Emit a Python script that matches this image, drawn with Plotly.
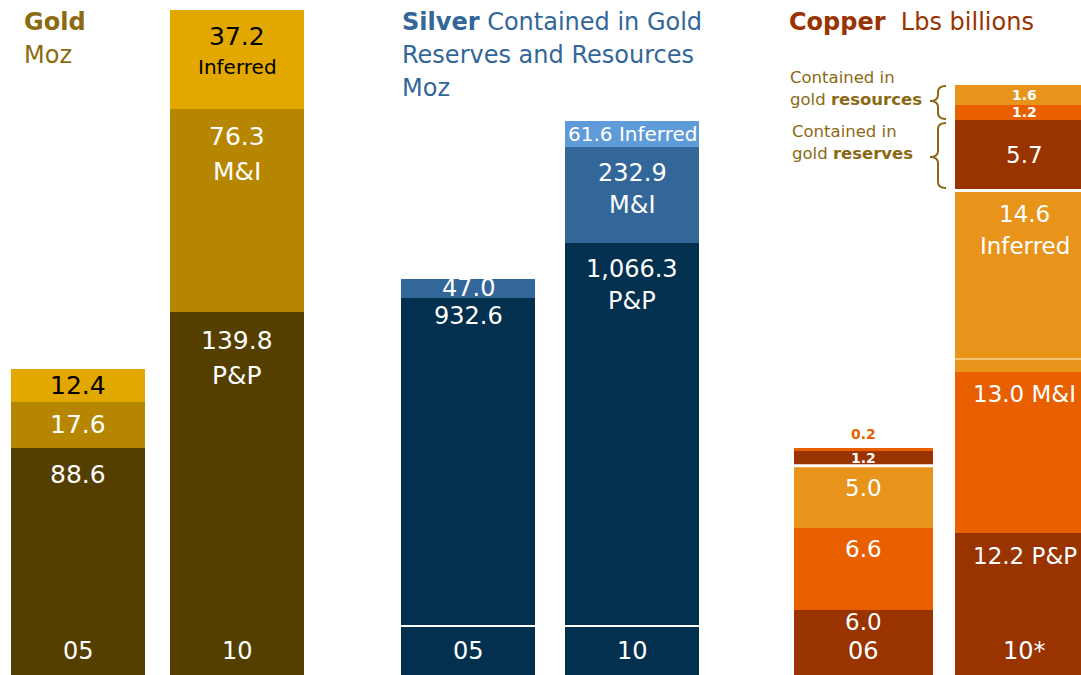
import plotly.graph_objects as go

# ---------------- data ----------------
gold_categories = ["05", "10"]
gold_pp = [88.6, 139.8]
gold_mi = [17.6, 76.3]
gold_inferred = [12.4, 37.2]

silver_categories = ["05", "10"]
silver_pp = [932.6, 1066.3]
silver_mi = [47.0, 232.9]
silver_inferred = [None, 61.6]

copper_categories = ["06", "10*"]
copper_pp = [6.0, 12.2]
copper_mi = [6.6, 13.0]
copper_inferred = [5.0, 14.6]
copper_in_gold_reserves = [1.2, 5.7]
copper_in_gold_resources_mi = [0.2, 1.2]
copper_in_gold_resources_inferred = [None, 1.6]

gold_pp_suffix = ["", "P&P"]
gold_mi_suffix = ["", "M&I"]
gold_inf_suffix = ["", "Inferred"]
silver_pp_suffix = ["", "P&P"]
silver_mi_suffix = ["", "M&I"]
silver_inf_inline = ["", " Inferred"]
copper_pp_inline = ["", " P&P"]
copper_mi_inline = ["", " M&I"]
copper_inf_suffix = ["", "Inferred"]

# ---------------- layout helpers ----------------
W, H = 1081, 675
FONT = "DejaVu Sans"
BASE_PX = 684  # pixel row of value 0 (just below the picture)


def x_range(dom, c0_px, spacing_px):
    d0, d1 = dom[0] * W, dom[1] * W
    r0 = -(c0_px - d0) / spacing_px
    return [r0, r0 + (d1 - d0) / spacing_px]


def y_range(scale):
    return [(BASE_PX - H) / scale, BASE_PX / scale]


panels = [
    dict(ax="", cats=gold_categories, dom=[0.0, 0.30], c0=78, sp=159, bw=134, scale=2.66,
         fmt="{:.1f}", size=25, gap=35,
         series=[
             dict(v=gold_pp, color="#553F00", tc="white", suffix=gold_pp_suffix, off=[26, 28]),
             dict(v=gold_mi, color="#B78600", tc="white", suffix=gold_mi_suffix, off=[None, 27]),
             dict(v=gold_inferred, color="#E2A800", tc="black", suffix=gold_inf_suffix, ssize=20),
         ]),
    dict(ax="2", cats=silver_categories, dom=[0.34, 0.68], c0=468, sp=164, bw=134, scale=0.4137,
         fmt="{:,.1f}", size=24, gap=32,
         series=[
             dict(v=silver_pp, color="#04304F", tc="white", suffix=silver_pp_suffix, off=[18, 26]),
             dict(v=silver_mi, color="#336699", tc="white", suffix=silver_mi_suffix),
             dict(v=silver_inferred, color="#5F9BD8", tc="white", inline=silver_inf_inline, size=20),
         ]),
    dict(ax="3", cats=copper_categories, dom=[0.70, 1.0], c0=863.5, sp=161, bw=139, scale=12.4,
         fmt="{:.1f}", small=22, size=23, gap=32,
         series=[
             dict(v=copper_pp, color="#993300", tc="white", inline=copper_pp_inline, off=[12, 23]),
             dict(v=copper_mi, color="#E85F00", tc="white", inline=copper_mi_inline, off=[21, 22]),
             dict(v=copper_inferred, color="#E8941A", tc="white", suffix=copper_inf_suffix, off=[22, 24]),
             dict(v=copper_in_gold_reserves, color="#993300", tc="white", center=True),
             dict(v=copper_in_gold_resources_mi, color="#E85F00", tc="white", center=True),
             dict(v=copper_in_gold_resources_inferred, color="#E8941A", tc="white", center=True),
         ]),
]

fig = go.Figure()
annotations = []
shapes = []
layout_axes = {}

for p in panels:
    ax = p["ax"]
    xname, yname = "x" + ax, "y" + ax
    width_u = p["bw"] / p["sp"]
    for s in p["series"]:
        fig.add_trace(go.Bar(
            x=p["cats"], y=s["v"], xaxis=xname, yaxis=yname,
            marker=dict(color=s["color"], line=dict(width=0)),
            width=width_u, showlegend=False, hoverinfo="skip",
        ))
    # labels (x given as category index so "05"/"10" are not read as numbers)
    base = [0.0] * len(p["cats"])
    for s in p["series"]:
        for i, v in enumerate(s["v"]):
            if v is None:
                continue
            top = base[i] + v
            base[i] = top
            h_px = v * p["scale"]
            txt = p["fmt"].format(v)
            size = s.get("size", p["size"])
            bold = False
            color = s["tc"]
            if "inline" in s:
                txt += s["inline"][i]
            if p.get("small") and h_px < p["small"]:
                size, bold = 14, True
            if h_px < 6:
                # too thin: label sits above the bar in the segment colour
                color = s["color"]
                shift = 14
            else:
                offs = s.get("off")
                if s.get("center"):
                    off = h_px / 2
                elif offs and offs[i] is not None:
                    off = offs[i]
                else:
                    off = min(26, h_px / 2)
                shift = -off
            annotations.append(dict(
                x=i, y=top, xref=xname, yref=yname, yanchor="middle",
                yshift=shift, showarrow=False,
                text=f"<b>{txt}</b>" if bold else txt,
                font=dict(family=FONT, size=size, color=color)))
            if "suffix" in s and s["suffix"][i]:
                g = p["gap"] - (4 if s.get("ssize") else 0)
                annotations.append(dict(
                    x=i, y=top, xref=xname, yref=yname, yanchor="middle",
                    yshift=shift - g, showarrow=False,
                    text=s["suffix"][i],
                    font=dict(family=FONT, size=s.get("ssize", p["size"]), color=color)))
    # category labels at the foot of each bar
    for i, c in enumerate(p["cats"]):
        annotations.append(dict(
            x=i, y=0, xref=xname, yref="paper", yanchor="middle", yshift=H - 651,
            showarrow=False, text=c, font=dict(family=FONT, size=24, color="white")))
    layout_axes["xaxis" + ax] = dict(domain=p["dom"], range=x_range(p["dom"], p["c0"], p["sp"]),
                                     type="category", visible=False, anchor=yname, fixedrange=True)
    layout_axes["yaxis" + ax] = dict(domain=[0, 1], range=y_range(p["scale"]), visible=False,
                                     anchor=xname, fixedrange=True)
    p["width_u"] = width_u

# silver: thin white rule across both bars near the foot
sw = panels[1]["width_u"]
for i in range(len(silver_categories)):
    shapes.append(dict(type="line", xref="x2", yref="paper", x0=i - sw / 2, x1=i + sw / 2,
                       y0=(H - 626) / H, y1=(H - 626) / H, line=dict(color="white", width=2)))

# copper: white gap between the copper resource stack and the "contained in gold" parts
cw = panels[2]["width_u"]
for i in range(len(copper_categories)):
    yb = copper_pp[i] + copper_mi[i] + copper_inferred[i]
    shapes.append(dict(type="line", xref="x3", yref="y3", x0=i - cw / 2, x1=i + cw / 2,
                       y0=yb, y1=yb, line=dict(color="white", width=3)))
shapes.append(dict(type="line", xref="x3", yref="paper", x0=1 - cw / 2, x1=1 + cw / 2,
                   y0=(H - 359) / H, y1=(H - 359) / H, line=dict(color="#FFF0C8", width=1)))


def px(x, y):
    return f"{x / W:.5f},{1 - y / H:.5f}"


def brace(y1, y2, ym, xt=930, xm=938, xr=946, r=6):
    return (f"M{px(xr, y1)} Q{px(xm, y1)} {px(xm, y1 + r)} L{px(xm, ym - r)} "
            f"Q{px(xm, ym)} {px(xt, ym)} Q{px(xm, ym)} {px(xm, ym + r)} "
            f"L{px(xm, y2 - r)} Q{px(xm, y2)} {px(xr, y2)}")


BRACE_COL = "#8B6914"
shapes.append(dict(type="path", xref="paper", yref="paper", path=brace(86, 119, 101),
                   line=dict(color=BRACE_COL, width=2)))
shapes.append(dict(type="path", xref="paper", yref="paper", path=brace(123, 188, 157),
                   line=dict(color=BRACE_COL, width=2)))

# titles and notes (one annotation per line, centred on the reference rows)


def ptext(x, y, text, size, color):
    annotations.append(dict(x=x / W, y=1 - y / H, xref="paper", yref="paper",
                            xanchor="left", yanchor="middle", showarrow=False, align="left",
                            text=text, font=dict(family=FONT, size=size, color=color)))


GOLD_T, SILVER_T, COPPER_T = "#8B6A10", "#336699", "#993300"
ptext(22, 22, "<b>Gold</b>", 24, GOLD_T)
ptext(22, 55, "Moz", 24, GOLD_T)
ptext(400, 22, "<b>Silver</b> Contained in Gold", 24, SILVER_T)
ptext(400, 55, "Reserves and Resources", 24, SILVER_T)
ptext(400, 88, "Moz", 24, SILVER_T)
ptext(787, 22, "<b>Copper</b>&nbsp; Lbs billions", 24, COPPER_T)
ptext(788, 77, "Contained in", 16.5, BRACE_COL)
ptext(788, 99, "gold <b>resources</b>", 16.5, BRACE_COL)
ptext(790, 131, "Contained in", 16.5, BRACE_COL)
ptext(790, 153, "gold <b>reserves</b>", 16.5, BRACE_COL)

fig.update_layout(
    width=W, height=H, margin=dict(l=0, r=0, t=0, b=0),
    paper_bgcolor="white", plot_bgcolor="white", barmode="stack",
    annotations=annotations, shapes=shapes, **layout_axes,
)

fig.write_html("out.html", config={"displayModeBar": False},
               post_script="document.body.style.margin='0';")
